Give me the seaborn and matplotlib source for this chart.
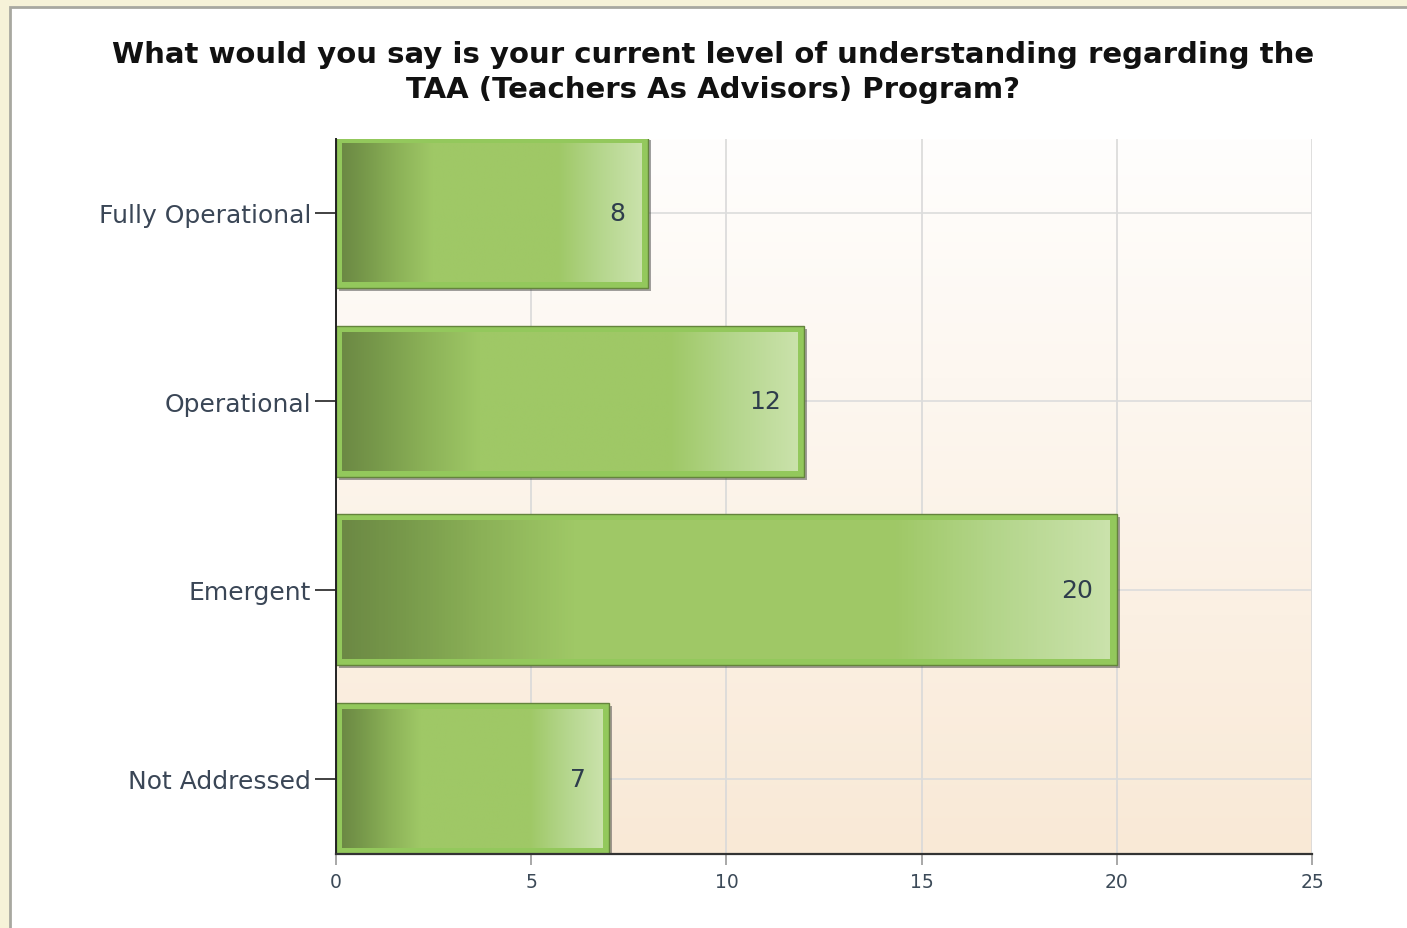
import numpy as np
import pandas as pd
import matplotlib
matplotlib.use("Agg")
import matplotlib.pyplot as plt
import seaborn as sns
from matplotlib.colors import LinearSegmentedColormap
from matplotlib.patches import Rectangle
from matplotlib import transforms

# Survey responses
categories = ["Fully Operational", "Operational", "Emergent", "Not Addressed"]
counts = [8, 12, 20, 7]
x_ticks = [0, 5, 10, 15, 20, 25]

title_lines = ["What would you say is your current level of understanding regarding the",
               "TAA (Teachers As Advisors) Program?"]

sns.set_theme(style="white")
plt.rcParams["font.family"] = ["DejaVu Sans"]

df = pd.DataFrame({"category": categories, "count": counts})

fig = plt.figure(figsize=(14.07, 9.29), dpi=100)
fig.patch.set_facecolor("#f6f2d8")

# white card behind the chart
card = Rectangle((10 / 1407, -0.1), 1.2, 1.1 - 8 / 929, transform=fig.transFigure,
                 facecolor="white", edgecolor="#a8a8a0", linewidth=2, zorder=-5)
fig.patches.append(card)

ax = fig.add_axes([336 / 1407, 1 - 855 / 929, (1312 - 336) / 1407, (855 - 140) / 929])
ax.set_zorder(2)

sns.barplot(data=df, y="category", x="count", orient="h", order=categories,
            width=0.8, color="#93c85e", ax=ax, zorder=3)

YLIM = (3.40, -0.39)
ax.set_xlim(0, 25)
ax.set_ylim(*YLIM)

# plot-area background: white at top fading to pale peach at bottom
bg = LinearSegmentedColormap.from_list("bg", ["#fffefd", "#f9e9d6"])
ax.imshow(np.linspace(0, 1, 256).reshape(-1, 1), cmap=bg, aspect="auto",
          extent=[0, 1, 0, 1], transform=ax.transAxes, zorder=0)
ax.patch.set_alpha(0)

# grid
for xv in x_ticks[1:]:
    ax.axvline(xv, color="#d9d9d9", lw=1.2, zorder=1)
for i in range(len(categories)):
    ax.axhline(i, color="#dcdcdc", lw=1.2, zorder=1)

bar_cmap = LinearSegmentedColormap.from_list(
    "bar",
    [(0.0, "#6c8944"), (0.08, "#789a4b"), (0.18, "#8bb157"), (0.3, "#9fc866"),
     (0.72, "#9fc866"), (0.85, "#b3d58a"), (1.0, "#cae2ab")])

px_x = 25 / (1312 - 336)
px_y = (YLIM[0] - YLIM[1]) / (855 - 140)

for patch, val in zip(ax.patches, counts):
    x0, y0 = patch.get_x(), patch.get_y()
    w, h = patch.get_width(), patch.get_height()
    patch.set_facecolor("#93c85c")
    patch.set_edgecolor("#64843c")
    patch.set_linewidth(1.0)
    patch.set_zorder(3)
    # drop shadow
    sh = transforms.offset_copy(ax.transData, fig=fig, x=3, y=-3, units="dots")
    ax.add_patch(Rectangle((x0, y0), w, h, transform=sh, facecolor="#444444",
                           alpha=0.5, edgecolor="none", zorder=2.5))
    # inner gradient panel
    ix0, ix1 = x0 + 6 * px_x, x0 + w - 7 * px_x
    iy0, iy1 = y0 + 6 * px_y, y0 + h - 6 * px_y
    ax.imshow(np.linspace(0, 1, 256).reshape(1, -1), cmap=bar_cmap, aspect="auto",
              extent=[ix0, ix1, iy1, iy0], zorder=4, interpolation="bilinear")
    ax.text(val - 0.6, y0 + h / 2, str(val), ha="right", va="center",
            fontsize=18, color="#2e3d4c", zorder=5)

ax.set_xlim(0, 25)
ax.set_ylim(*YLIM)

ax.set_xticks(x_ticks)
ax.set_xticklabels([str(t) for t in x_ticks], fontsize=13.5, color="#3c4a58")
ax.set_yticks(range(len(categories)))
ax.set_yticklabels(categories, fontsize=18, color="#3a4656")
ax.tick_params(axis="y", length=15, width=1.3, color="#333333", pad=3, left=True)
ax.tick_params(axis="x", length=8, width=1.2, color="#999999", pad=5, bottom=True)
ax.set_xlabel("")
ax.set_ylabel("")

for s in ["top", "right"]:
    ax.spines[s].set_visible(False)
ax.spines["left"].set_color("#222222")
ax.spines["left"].set_linewidth(1.4)
ax.spines["bottom"].set_color("#333333")
ax.spines["bottom"].set_linewidth(1.6)
ax.spines["left"].set_zorder(6)
ax.spines["bottom"].set_zorder(6)

for line, ypix in zip(title_lines, [55, 90]):
    fig.text(713 / 1407, 1 - ypix / 929, line, ha="center", va="center",
             fontsize=21, fontweight="bold", color="#111111")

fig.savefig("out.png", dpi=100, facecolor=fig.get_facecolor())
